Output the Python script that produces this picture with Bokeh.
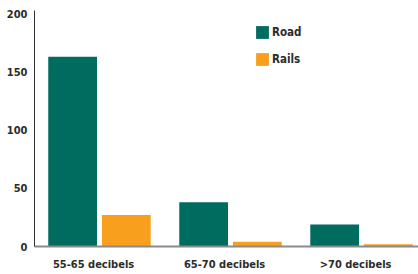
from bokeh.plotting import figure
from bokeh.models import ColumnDataSource, Legend, LegendItem, FixedTicker, Range1d
from bokeh.embed import file_html
from bokeh.resources import INLINE

categories = ["55-65 decibels", "65-70 decibels", ">70 decibels"]
road = [163, 38, 19]
rails = [27, 4, 2]
y_ticks = [0, 50, 100, 150, 200]

ROAD_COLOR = "#006b5f"
RAILS_COLOR = "#f89f1d"
TEXT_COLOR = "#2b2b2b"
FONT = "DejaVu Sans Condensed"

idx = list(range(len(categories)))
src = ColumnDataSource(dict(
    road_x=[i - 0.205 for i in idx],
    rails_x=[i + 0.205 for i in idx],
    road=road,
    rails=rails,
))

p = figure(width=418, height=274, output_backend="svg", toolbar_location=None,
           x_range=Range1d(-0.496, 2.435), y_range=Range1d(0, 202.8),
           min_border_left=34, min_border_right=0, min_border_top=10, min_border_bottom=28)
p.outline_line_color = None
p.grid.visible = False

r_road = p.vbar(x="road_x", top="road", width=0.372, source=src,
                fill_color=ROAD_COLOR, line_color=None)
r_rails = p.vbar(x="rails_x", top="rails", width=0.372, source=src,
                 fill_color=RAILS_COLOR, line_color=None)

for ax in (p.xaxis[0], p.yaxis[0]):
    ax.major_tick_line_color = None
    ax.minor_tick_line_color = None
    ax.major_tick_out = 0
    ax.major_tick_in = 0
    ax.minor_tick_out = 0
    ax.minor_tick_in = 0
    ax.axis_label_standoff = 0
    ax.major_label_text_font = FONT
    ax.major_label_text_font_style = "bold"
    ax.major_label_text_font_size = "11px"
    ax.major_label_text_color = TEXT_COLOR

p.xaxis.ticker = FixedTicker(ticks=[i - 0.045 for i in idx])
p.xaxis.major_label_overrides = {i - 0.045: c for i, c in zip(idx, categories)}
p.xaxis.axis_line_color = "#8a8a8a"
p.xaxis.axis_line_width = 2
p.xaxis.major_label_standoff = 11

p.yaxis.ticker = FixedTicker(ticks=y_ticks)
p.yaxis.axis_line_color = "#333333"
p.yaxis.axis_line_width = 1
p.yaxis.major_label_standoff = 7

legend = Legend(items=[LegendItem(label="Road", renderers=[r_road]),
                       LegendItem(label="Rails", renderers=[r_rails])],
                location=(220, 179), orientation="vertical",
                glyph_width=16, glyph_height=16, spacing=11, label_standoff=2,
                padding=0, margin=0, border_line_color=None,
                background_fill_alpha=0,
                label_text_font=FONT, label_text_font_style="bold",
                label_text_font_size="11.5px", label_text_color=TEXT_COLOR,
                label_height=16)
p.add_layout(legend)

open("out.html", "w").write(file_html(p, INLINE))
